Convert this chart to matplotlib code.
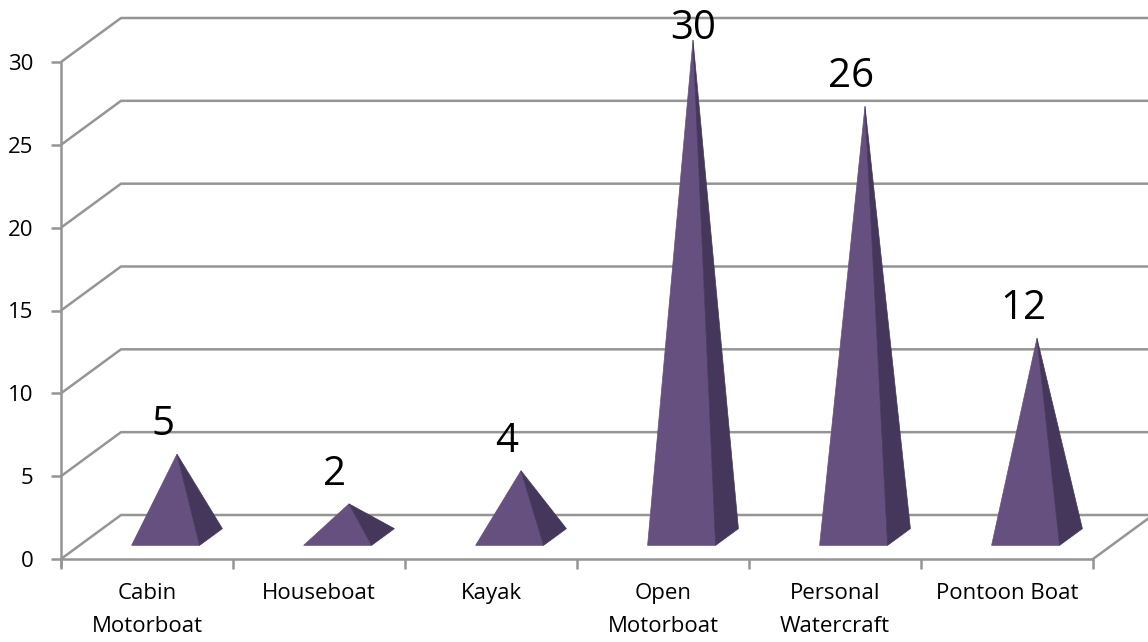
import matplotlib
matplotlib.use("Agg")
import matplotlib.pyplot as plt
from matplotlib.patches import Polygon

categories = ["Cabin\nMotorboat", "Houseboat", "Kayak", "Open\nMotorboat",
              "Personal\nWatercraft", "Pontoon Boat"]
values = [5, 2, 4, 30, 26, 12]
y_ticks = [0, 5, 10, 15, 20, 25, 30]

plt.rcParams['font.family'] = ['Open Sans', 'DejaVu Sans']

W, H = 1148, 642
fig = plt.figure(figsize=(W / 100, H / 100), dpi=100)
fig.patch.set_facecolor('white')
# front plane: x 0..6 -> px 61..1093, y 0..30 -> py 559..62
ax = fig.add_axes([61 / W, (H - 559) / H, 1032 / W, 497 / H])
n = len(categories)
ax.set_xlim(0, n)
ax.set_ylim(0, 30)
for s in ax.spines.values():
    s.set_visible(False)

px_per_x = 1032 / n
px_per_y = 497 / 30
DX = 60 / px_per_x          # depth offset in x data units
DY = 44 / px_per_y          # depth offset in y data units

def proj(x, y, z):
    return (x + DX * z, y + DY * z)

grid_c = '#959595'
lw = 1.8
far_x = n + 2
# back wall grid lines + side diagonals
for v in y_ticks:
    p0 = proj(0, v, 0)
    p1 = proj(0, v, 1)
    ax.plot([p0[0], p1[0], far_x], [p0[1], p1[1], p1[1]], color=grid_c,
            lw=lw, clip_on=False, solid_capstyle='butt', zorder=1)
# floor front and right edge
f0 = proj(n, 0, 0)
f1 = proj(n, 0, 1)
ax.plot([0, n], [0, 0], color=grid_c, lw=lw, clip_on=False, zorder=1)
ax.plot([f0[0], f1[0]], [f0[1], f1[1]], color=grid_c, lw=lw, clip_on=False, zorder=1)
# y axis line
ax.plot([0, 0], [-7 / px_per_y, 30], color=grid_c, lw=lw, clip_on=False, zorder=1)

# ticks
ax.set_yticks(y_ticks)
ax.set_yticklabels([str(v) for v in y_ticks], fontsize=16)
ax.set_xticks([i for i in range(n + 1)])
ax.set_xticklabels([])
ax.tick_params(axis='y', length=7, width=lw, color=grid_c, pad=13)
ax.tick_params(axis='x', length=7, width=lw, color=grid_c)
for i, c in enumerate(categories):
    ax.text(i + 0.5, -24 / px_per_y, c, ha='center', va='top', fontsize=16,
            linespacing=1.75)

# pyramids
front_c = '#66507f'
side_c = '#45375b'
half_w = 34 / px_per_x
z0, z1 = 0.31, 0.69
for i, v in enumerate(values):
    cx = i + 0.5
    apex = proj(cx, v, 0.5)
    fl = proj(cx - half_w, 0, z0)
    fr = proj(cx + half_w, 0, z0)
    br = proj(cx + half_w, 0, z1)
    ax.add_patch(Polygon([fl, fr, apex], closed=True, facecolor=front_c,
                         edgecolor=front_c, lw=0.5, clip_on=False, zorder=3))
    ax.add_patch(Polygon([fr, br, apex], closed=True, facecolor=side_c,
                         edgecolor=side_c, lw=0.5, clip_on=False, zorder=3))
    # value label
    lx = cx + 16 / px_per_x
    ly = apex[1] + 19 / px_per_y
    top_limit = 30 + (62 - 9) / px_per_y
    label_h = 30 / px_per_y
    if ly + label_h > top_limit:
        ly = top_limit - label_h
        lx = apex[0]
    ax.text(lx, ly, str(v), ha='center', va='baseline', fontsize=29,
            clip_on=False, zorder=4)

fig.savefig("out.png", dpi=100)
